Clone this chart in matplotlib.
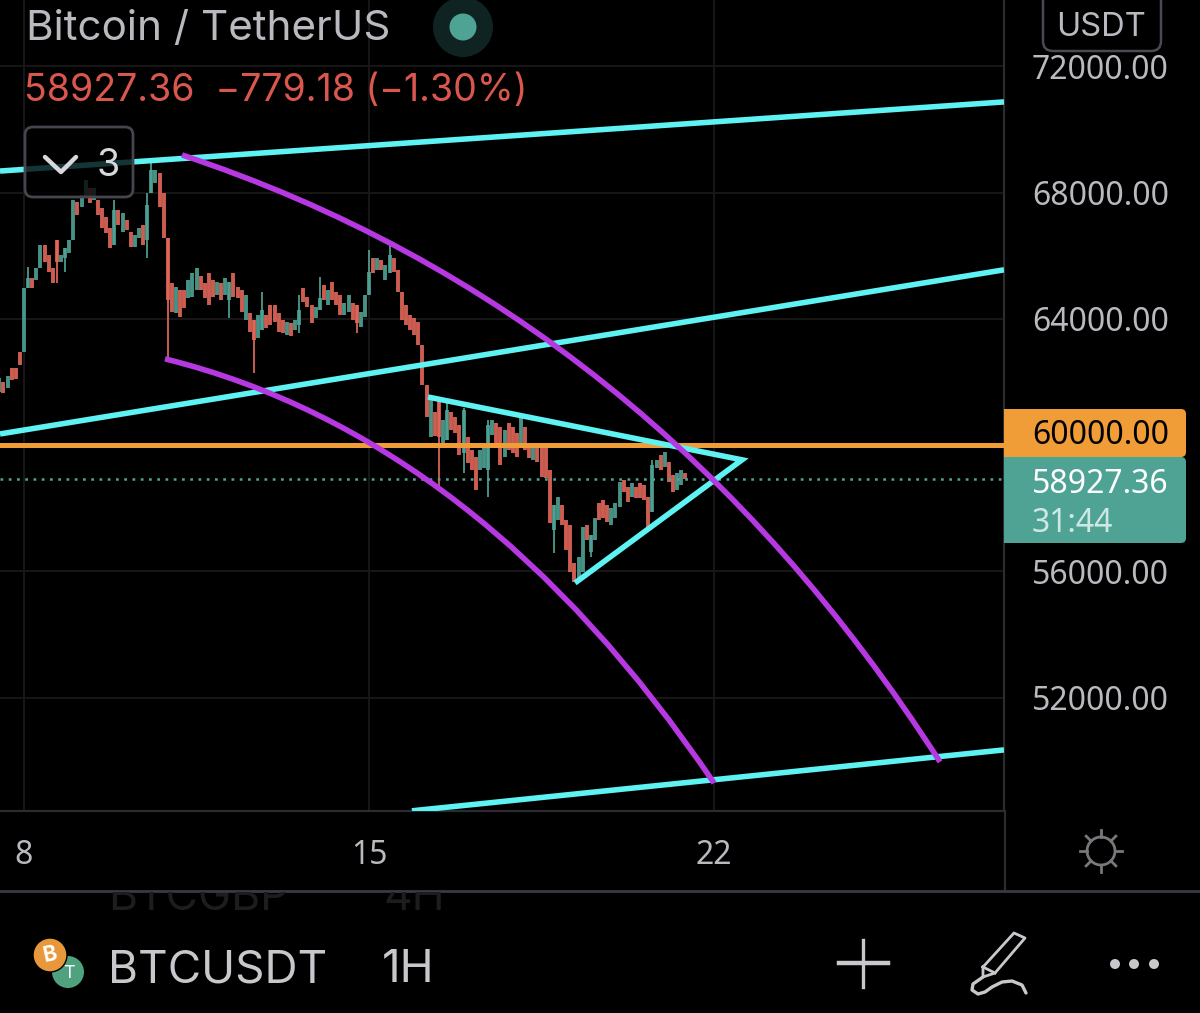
"""BTCUSDT 1H chart with drawn channels, arcs and a triangle, phone-app styling."""
import matplotlib
matplotlib.use("Agg")
import matplotlib.pyplot as plt
import numpy as np
from matplotlib.patches import Circle, FancyBboxPatch, PathPatch, Rectangle
from matplotlib.path import Path

plt.rcParams["font.family"] = ["Inter", "DejaVu Sans"]

# two-hour candles, first one starts 12 hours before the "8" tick
opens = [
    61680, 62000, 61810, 62440, 62440, 62950, 62950, 64980, 65290, 65230,
    65610, 66340, 66020, 65610, 66500, 65800, 65930, 66080, 66500, 67700,
    67540, 67860, 68140, 67760, 67760, 67510, 67230, 66880, 66340, 67450,
    66750, 67130, 66750, 66270, 66560, 66970, 66500, 67990, 68300, 68620,
    67990, 66560, 65130, 64180, 64910, 64910, 64660, 64690, 64910, 65350,
    65130, 65450, 65230, 64750, 65130, 64750, 64600, 65450, 65010, 64910,
    63960, 64180, 63960, 63390, 63650, 64120, 64440, 64440, 64180, 63960,
    63490, 63870, 63650, 63800, 64980, 64690, 64440, 64030, 64280, 65070,
    64440, 65170, 64850, 64750, 64120, 64220, 64500, 64440, 63740, 64060,
    64750, 65930, 65550, 65860, 65230, 65450, 65930, 65550, 64850, 64440,
    64120, 64030, 63900, 63170, 61900, 60260, 61050, 61430, 60070, 60160,
    61050, 60890, 60640, 59750, 60260, 59840, 59620, 59210, 59270, 59210,
    60320, 60700, 60570, 59620, 60700, 60570, 60380, 60070, 60570, 59940,
    59530, 59940, 59940, 59940, 59210, 57310, 57630, 58100, 57630, 57470,
    56260, 55730, 55980, 57470, 56610, 56990, 58160, 58260, 58100, 57470,
    57690, 58040, 58890, 58670, 58350, 58670, 58800, 58740, 58350, 57880,
    59270, 59690, 59310, 59460, 59050, 58580, 58740, 59100,
]
closes = [
    62130, 61650, 62190, 62060, 62090, 62540, 64980, 65290, 64980, 65610,
    66340, 65800, 65480, 65130, 65800, 66020, 66240, 66500, 67760, 67290,
    67920, 68400, 67670, 68140, 67290, 66880, 66720, 66240, 67450, 66970,
    67350, 66810, 66270, 66660, 66880, 66340, 67610, 68710, 68710, 67540,
    66560, 64600, 64220, 65010, 64060, 64340, 65230, 65450, 65610, 64910,
    64660, 64440, 64690, 65170, 64600, 65290, 65170, 64690, 64660, 64220,
    64750, 63580, 63330, 64120, 64280, 63710, 63800, 63900, 63580, 63550,
    63900, 63460, 63960, 64280, 64530, 64370, 63870, 64370, 64660, 64600,
    64910, 64600, 64440, 64120, 64500, 64750, 63960, 63870, 64220, 64750,
    65480, 65450, 65930, 65550, 65700, 66020, 65480, 64850, 63960, 63800,
    63650, 63490, 63170, 61900, 60890, 61520, 60290, 60260, 60790, 61110,
    60480, 60380, 59690, 61110, 59430, 59210, 58580, 59840, 60000, 60640,
    60790, 59940, 59370, 60480, 59840, 59750, 59620, 60950, 59840, 59590,
    60070, 59460, 58990, 58960, 57530, 58100, 58350, 57470, 56680, 55980,
    55670, 56450, 57400, 56990, 57150, 57690, 57630, 57690, 57560, 58010,
    58160, 58830, 58510, 58200, 58800, 58320, 58320, 58260, 57370, 59370,
    59530, 59210, 59780, 58830, 58510, 59120, 59210, 58927.36,
]
# candles whose wick sticks out well past the body
wick_index = [7, 14, 16, 28, 36, 37, 41, 56, 62, 64, 73, 78, 87, 90, 95, 107, 109, 113, 119, 135, 144, 159]
wick_high = [65640, 66500, 66240, 67760, 67990, 68970, 66560, 65170, 63960, 64850, 64750, 65320,
             64440, 66180, 66400, 61430, 61430, 61170, 60790, 58100, 57150, 59530]
wick_low = [64980, 65130, 65480, 66340, 65930, 67990, 62760, 64030, 62280, 63650, 63550, 64280,
            63550, 64750, 65450, 58580, 60160, 59120, 58350, 56580, 56450, 57880]

# drawn lines, (day, price)
top_channel_days = [7.513, 27.882]
top_channel_prices = [68680, 70870]
mid_channel_days = [7.513, 27.882]
mid_channel_prices = [60350, 65550]
low_channel_days = [15.87, 27.882]
low_channel_prices = [48410, 50340]
triangle_days = [16.196, 22.567, 19.179]
triangle_prices = [61520, 59530, 55630]
# arcs are quadratic curves: start, control, end
upper_arc_days = [11.206, 20.70, 26.584]
upper_arc_prices = [69190, 64280, 49960]
lower_arc_days = [10.861, 17.251, 21.999]
lower_arc_prices = [62730, 60250, 49290]

alert_price = 60000
last_price = 58927.36
price_ticks = [72000, 68000, 64000, 60000, 56000, 52000]
price_tick_labels = ["72000.00", "68000.00", "64000.00", "", "56000.00", "52000.00"]
day_ticks = [8, 15, 22]

TEAL = "#4fa395"
RED = "#e5685a"
CYAN = "#5ef2f2"
PURPLE = "#b638e0"
ORANGE = "#f09d38"
TEXT = "#b9b9bf"
ICON = "#c8c8cc"

fig = plt.figure(figsize=(12, 10.13), dpi=100, facecolor="black")
W, H = 1200, 1013

# price pane
ax = fig.add_axes([0, 1 - 811 / H, 1004 / W, 811 / H], facecolor="black")
ax.set_xlim(7.513, 27.882)
ax.set_ylim(48404, 74099)
ax.set_xticks(day_ticks)
ax.set_xticklabels([str(d) for d in day_ticks])
ax.set_yticks(price_ticks)
ax.set_yticklabels(price_tick_labels)
ax.yaxis.tick_right()
ax.tick_params(axis="y", length=0, pad=20, labelsize=23, labelcolor=TEXT)
ax.tick_params(axis="x", length=0, pad=20, labelsize=23, labelcolor=TEXT)
for lab in ax.get_yticklabels() + ax.get_xticklabels():
    lab.set_family(["Noto Sans", "DejaVu Sans"])
for lab in ax.get_xticklabels():
    lab.set_fontweight("semibold")
ax.grid(True, color="#171717", linewidth=1.4, zorder=0)
ax.set_axisbelow(True)
for name, spine in ax.spines.items():
    spine.set_visible(name in ("right", "bottom"))
    spine.set_color("#2b2b30")
    spine.set_linewidth(1.6)

days = 7.5 + np.arange(len(opens)) * 2 / 24
opens = np.array(opens)
closes = np.array(closes)
colors = [TEAL if c >= o else RED for o, c in zip(opens, closes)]
ax.vlines(days, opens, closes, colors=colors, linewidth=2.8, alpha=0.9, zorder=2)
ax.vlines(days[wick_index], wick_low, wick_high, colors=[colors[i] for i in wick_index],
          linewidth=1.3, alpha=0.95, zorder=2)

ax.axhline(last_price, color=TEAL, linewidth=1.8, linestyle=(0, (1.1, 2.2)), zorder=3)
ax.axhline(alert_price, color=ORANGE, linewidth=3.6, zorder=3)

line_kw = dict(linewidth=4, solid_capstyle="butt", solid_joinstyle="miter", zorder=4)
ax.plot(top_channel_days, top_channel_prices, color=CYAN, **line_kw)
ax.plot(mid_channel_days, mid_channel_prices, color=CYAN, **line_kw)
ax.plot(low_channel_days, low_channel_prices, color=CYAN, **line_kw)
ax.plot(triangle_days, triangle_prices, color=CYAN, **line_kw)
for arc_days, arc_prices in [(upper_arc_days, upper_arc_prices), (lower_arc_days, lower_arc_prices)]:
    arc = Path(list(zip(arc_days, arc_prices)), [Path.MOVETO, Path.CURVE3, Path.CURVE3])
    ax.add_patch(PathPatch(arc, facecolor="none", edgecolor=PURPLE, linewidth=4, capstyle="butt", zorder=5))

# everything around the pane, in screen pixels
ui = fig.add_axes([0, 0, 1, 1], facecolor="none")
ui.set_xlim(0, W)
ui.set_ylim(H, 0)
ui.axis("off")


def rounded(x0, y0, x1, y1, r, **kw):
    p = FancyBboxPatch((x0 + r, y0 + r), x1 - x0 - 2 * r, y1 - y0 - 2 * r,
                       boxstyle=f"round,pad={r},rounding_size={r}", **kw)
    ui.add_patch(p)
    return p


# header
ui.text(26, 29, "Bitcoin / TetherUS", fontsize=30.4, color=TEXT, va="center", ha="left")
ui.text(24, 91, "58927.36  \u2212779.18 (\u22121.30%)", fontsize=27, color="#d9574d", va="center", ha="left")
ui.add_patch(Circle((463, 27), 30, facecolor="#0f2422", edgecolor="none"))
ui.add_patch(Circle((463, 27), 13.5, facecolor=TEAL, edgecolor="none"))

# collapsed indicators button
rounded(25, 127, 133, 197, 8, facecolor=(0, 0, 0, 0.78), edgecolor="#45454d", linewidth=2)
ui.plot([45, 61, 76], [157, 172, 157], color="#d8d8dc", linewidth=3.2, solid_capstyle="round")
ui.text(108, 166, "3", fontsize=27, color="#d8d8dc", ha="center", va="center")

# currency and price badges
rounded(1043, -12, 1161, 51, 10, facecolor="black", edgecolor="#4a4a52", linewidth=1.8)
ui.text(1101, 27, "USDT", fontsize=23.5, color=TEXT, ha="center", va="center")
rounded(1004, 409, 1186, 457, 5, facecolor=ORANGE, edgecolor="none")
ui.add_patch(Rectangle((1004, 409), 10, 48, facecolor=ORANGE, edgecolor="none"))
rounded(1004, 457, 1186, 543, 5, facecolor=TEAL, edgecolor="none")
ui.add_patch(Rectangle((1004, 457), 10, 86, facecolor=TEAL, edgecolor="none"))
badge_font = ["Noto Sans", "DejaVu Sans"]
ui.text(1032, 435, "60000.00", fontsize=23, color="black", va="center", family=badge_font)
ui.text(1032, 484, "58927.36", fontsize=23, color="white", va="center", family=badge_font)
ui.text(1032, 523, "31:44", fontsize=23, color="#cfe8e3", va="center", family=badge_font)

# chart settings gear
gear_x, gear_y = 1101, 851
ui.add_patch(Circle((gear_x, gear_y), 14, facecolor="none", edgecolor="#77777c", linewidth=2))
for a in np.deg2rad(np.arange(0, 360, 45)):
    ui.plot([gear_x + 14 * np.cos(a), gear_x + 21 * np.cos(a)],
            [gear_y + 14 * np.sin(a), gear_y + 21 * np.sin(a)], color="#77777c", linewidth=2)

# bottom bar
ui.plot([1005, 1005], [811, 891], color="#2b2b30", linewidth=1.6)
ui.plot([0, W], [891, 891], color="#3a3a44", linewidth=2)
clip = Rectangle((0, 892), W, 60, transform=ui.transData)
for x, s in [(108, "BTCGBP"), (383, "4H")]:
    t = ui.text(x, 910, s, fontsize=32, color="#1d1d1f", va="baseline")
    t.set_clip_path(clip)
    t.set_clip_on(True)

ui.add_patch(Circle((68, 972), 16, facecolor="#50a27f", edgecolor="none"))
ui.text(69, 973, "T", fontsize=13, color="white", ha="center", va="center")
ui.add_patch(Circle((50, 955), 17, facecolor="#e8973a", edgecolor="black", linewidth=1))
ui.text(50, 955, "B", fontsize=15, color="white", fontweight="bold", ha="center", va="center", rotation=12)

ui.text(108, 982, "BTCUSDT", fontsize=33, color=ICON, va="baseline")
ui.text(382, 982, "1H", fontsize=33, color=ICON, va="baseline")

ui.plot([839, 888], [963, 963], color=ICON, linewidth=3.2)
ui.plot([863, 863], [940, 987], color=ICON, linewidth=2.4)
ui.plot([983, 1014, 1025, 995, 983, 983], [967, 933, 938, 973, 977, 967],
        color=ICON, linewidth=2, solid_joinstyle="round")
ui.plot([983, 995], [967, 973], color=ICON, linewidth=2)
ui.plot([983, 973, 972, 978, 985, 992, 1002, 1012, 1022, 1026], [977, 984, 990, 994, 992, 987, 982, 981, 985, 993],
        color=ICON, linewidth=2.4, solid_capstyle="round", solid_joinstyle="round")
for x in (1115, 1134, 1154):
    ui.add_patch(Circle((x, 964), 5, facecolor=ICON, edgecolor="none"))

fig.savefig("out.png", dpi=100, facecolor="black")
plt.close(fig)
